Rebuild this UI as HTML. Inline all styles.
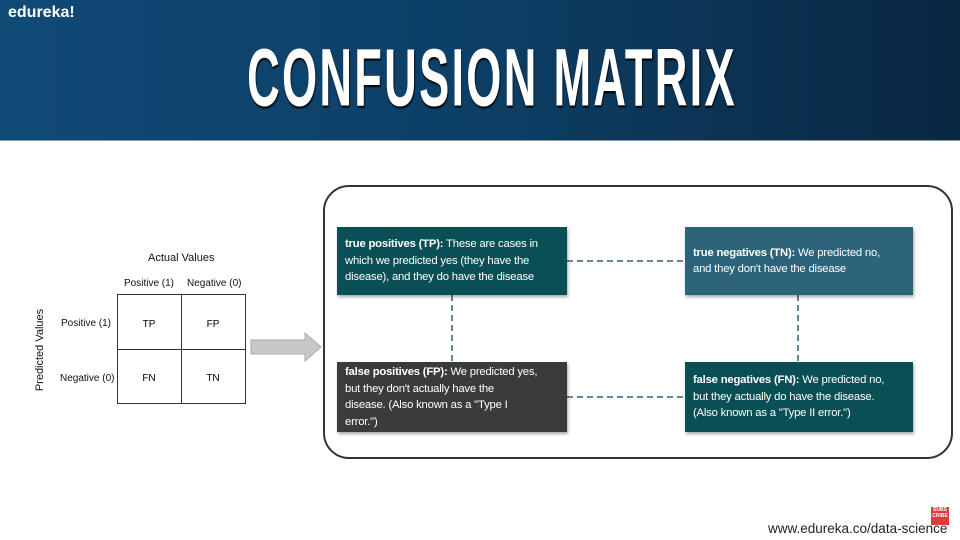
<!DOCTYPE html>
<html><head><meta charset="utf-8"><style>
*{margin:0;padding:0;box-sizing:border-box}
body{width:960px;height:540px;background:#fff;position:relative;overflow:hidden;font-family:"Liberation Sans",sans-serif}
.hdr{position:absolute;left:0;top:0;width:960px;height:141px;background:linear-gradient(90deg,#0f4a76 0%,#0d3f66 50%,#0a2742 100%);border-bottom:1px solid #8a9aa6}
.logo{position:absolute;left:8px;top:4px;color:#fff;font:bold 16px "Liberation Sans Narrow","Liberation Sans",sans-serif}
.title{position:absolute;left:12px;width:960px;top:32px;text-align:center;color:#fff;font:bold 80px "Liberation Sans",sans-serif;letter-spacing:4px;transform:scale(0.565,1.02);text-shadow:1px 2px 2px #000;white-space:nowrap}
.t{position:absolute;font-size:10px;color:#111;white-space:nowrap}
.box{position:absolute;color:#fff;font-size:11.3px;line-height:16.5px;padding:0 8px;display:flex;align-items:center;box-shadow:1px 2px 3px rgba(0,0,0,.35);white-space:nowrap;letter-spacing:-0.2px}
.outer{position:absolute;left:323px;top:185px;width:630px;height:274px;border:2px solid #333;border-radius:26px}
.url{position:absolute;left:768px;top:521px;font-size:13.5px;color:#222}
</style></head><body>
<div class="hdr"><div class="logo">edureka!</div><div class="title">CONFUSION MATRIX</div></div>
<div class="t" style="left:148px;top:252px;font-size:11px">Actual Values</div>
<div class="t" style="left:124px;top:278px">Positive (1)</div>
<div class="t" style="left:187px;top:278px">Negative (0)</div>
<div class="t" style="left:61px;top:318px">Positive (1)</div>
<div class="t" style="left:60px;top:373px">Negative (0)</div>
<div class="t" style="left:40px;top:350px;font-size:11px;transform:translate(-50%,-50%) rotate(-90deg);transform-origin:center">Predicted Values</div>
<svg style="position:absolute;left:0;top:0" width="960" height="540">
<rect x="117.5" y="294.5" width="128" height="109" fill="none" stroke="#333"/>
<line x1="181.5" y1="294" x2="181.5" y2="404" stroke="#333"/>
<line x1="117" y1="349.5" x2="246" y2="349.5" stroke="#333"/>
<text x="149" y="327" font-size="10" text-anchor="middle" font-family="Liberation Sans">TP</text>
<text x="213" y="327" font-size="10" text-anchor="middle" font-family="Liberation Sans">FP</text>
<text x="149" y="381" font-size="10" text-anchor="middle" font-family="Liberation Sans">FN</text>
<text x="213" y="381" font-size="10" text-anchor="middle" font-family="Liberation Sans">TN</text>
<polygon points="251,340 305,340 305,333 321,347 305,361 305,354 251,354" fill="#c8c8c8" stroke="#aaa"/>
<g stroke="#2a5f7a" stroke-width="1.5" stroke-dasharray="6,4" fill="none">
<line x1="567" y1="261" x2="685" y2="261"/>
<line x1="567" y1="397" x2="685" y2="397"/>
<line x1="452" y1="295" x2="452" y2="362"/>
<line x1="798" y1="295" x2="798" y2="362"/>
</g>
</svg>
<div class="outer"></div>
<div class="box" style="left:337px;top:227px;width:230px;height:68px;background:#0b4f56"><div><b>true positives (TP):</b> These are cases in<br>which we predicted yes (they have the<br>disease), and they do have the disease</div></div>
<div class="box" style="left:685px;top:227px;width:228px;height:68px;background:#2d6479"><div><b>true negatives (TN):</b> We predicted no,<br>and they don't have the disease</div></div>
<div class="box" style="left:337px;top:362px;width:230px;height:70px;background:#3b3b3b"><div><b>false positives (FP):</b> We predicted yes,<br>but they don't actually have the<br>disease. (Also known as a "Type I<br>error.")</div></div>
<div class="box" style="left:685px;top:362px;width:228px;height:70px;background:#0b4f56"><div><b>false negatives (FN):</b> We predicted no,<br>but they actually do have the disease.<br>(Also known as a "Type II error.")</div></div>
<div class="url">www.edureka.co/data-science</div>
<div style="position:absolute;left:931px;top:507px;width:18px;height:18px;background:#e0393e;color:#fff;font:bold 5px 'Liberation Sans',sans-serif;line-height:6px;text-align:center">SUBS<br>CRIBE</div>
</body></html>
